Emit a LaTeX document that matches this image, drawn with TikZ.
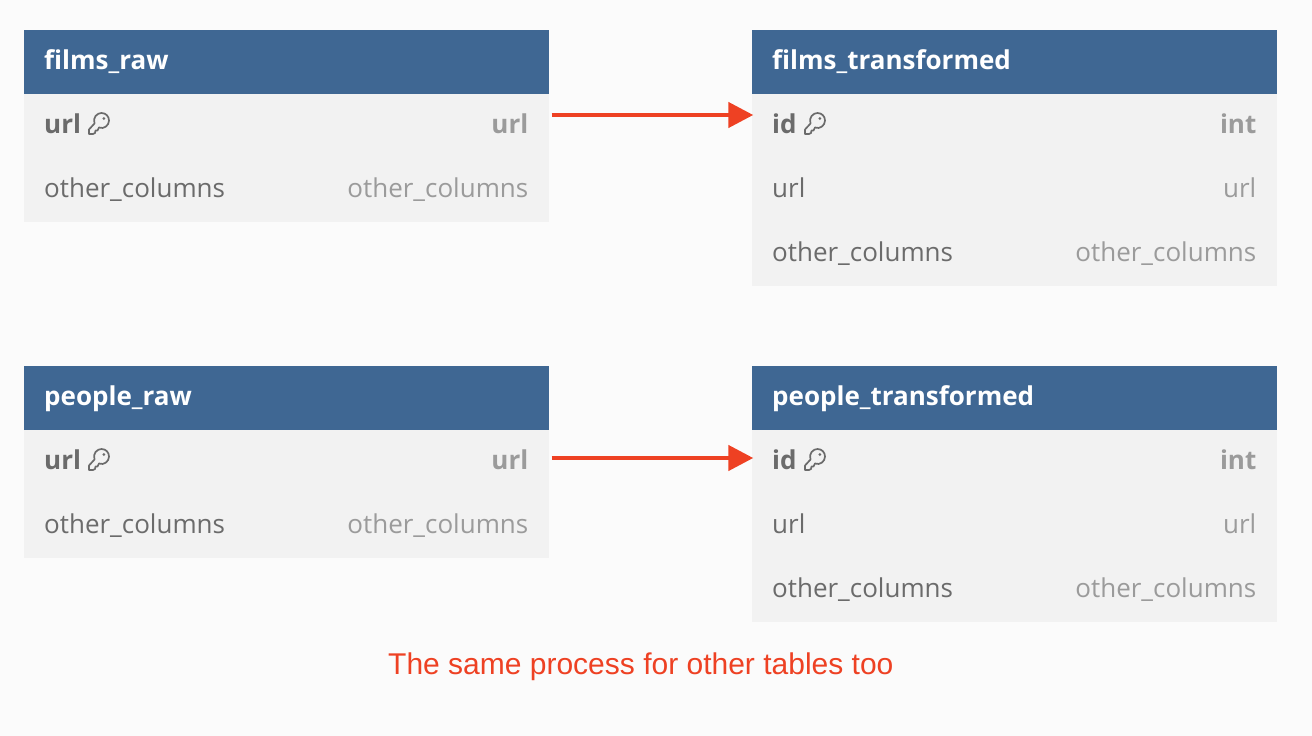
\documentclass[tikz,border=0pt]{standalone}
\usepackage{fontspec}
\setmainfont{Open Sans}
\newfontfamily\redfont{Liberation Sans}
\usetikzlibrary{arrows.meta}
\definecolor{bgc}{HTML}{FBFBFB}
\definecolor{headc}{HTML}{3F6793}
\definecolor{rowc}{HTML}{F2F2F2}
\definecolor{namec}{HTML}{6B6B6B}
\definecolor{typec}{HTML}{9B9B9B}
\definecolor{redc}{HTML}{EE4123}
\tikzset{
  x=1pt,y=-1pt,
  header/.style={fill=headc,draw=none,minimum width=525pt,minimum height=64pt,anchor=north west,inner sep=0pt},
  body/.style={fill=rowc,draw=none,minimum width=525pt,anchor=north west,inner sep=0pt},
  title/.style={anchor=base west,inner sep=0pt,text=white,font=\fontsize{26}{26}\selectfont\bfseries},
  colname/.style={anchor=base west,inner sep=0pt,text=namec,font=\fontsize{26}{26}\selectfont},
  keyname/.style={colname,font=\fontsize{26}{26}\selectfont\bfseries},
  coltype/.style={anchor=base east,inner sep=0pt,text=typec,font=\fontsize{26}{26}\selectfont},
  keytype/.style={coltype,font=\fontsize{26}{26}\selectfont\bfseries},
  flow/.style={draw=redc,line width=4.5pt,-{Triangle[length=25pt,width=25pt,fill=redc]}},
  keyglyph/.style={draw=namec,line width=1.7pt,line join=round,fill=none},
  pics/keyicon/.style={code={
    \draw[keyglyph] (1,21) -- (1,16.5) -- (6.5,10.5)
      .. controls (4.5,4.5) and (9,0) .. (13.5,0)
      .. controls (18,0) and (21,3.5) .. (21,7.5)
      .. controls (21,12.5) and (16,16.5) .. (11,14.5)
      -- (9.5,17.5) -- (7.5,17.5) -- (7,20) -- (5,21) -- cycle;
    \fill[namec] (15.8,5.5) circle (1.5);
  }}
}
\begin{document}
\begin{tikzpicture}
\useasboundingbox[fill=bgc] (0,0) rectangle (1312,736);
% films_raw
\node[body,minimum height=128pt] (frb) at (23.5,94) {};
\node[header] (frh) at (23.5,30) {};
\node[title] (frt) at (44,69) {films\_raw};
\node[keyname] (fr1) at (44,133) {url};
\pic at (88,113) {keyicon};
\node[keytype] (fr1t) at (528.5,133) {url};
\node[colname] (fr2) at (44,197) {other\_columns};
\node[coltype] (fr2t) at (528.5,197) {other\_columns};
% films_transformed
\node[body,minimum height=192pt] (ftb) at (751.5,94) {};
\node[header] (fth) at (751.5,30) {};
\node[title] (ftt) at (772,69) {films\_transformed};
\node[keyname] (ft1) at (772,133) {id};
\pic at (804,113) {keyicon};
\node[keytype] (ft1t) at (1256.5,133) {int};
\node[colname] (ft2) at (772,197) {url};
\node[coltype] (ft2t) at (1256.5,197) {url};
\node[colname] (ft3) at (772,261) {other\_columns};
\node[coltype] (ft3t) at (1256.5,261) {other\_columns};
% people_raw
\node[body,minimum height=128pt] (prb) at (23.5,430) {};
\node[header] (prh) at (23.5,366) {};
\node[title] (prt) at (44,405) {people\_raw};
\node[keyname] (pr1) at (44,469) {url};
\pic at (88,449) {keyicon};
\node[keytype] (pr1t) at (528.5,469) {url};
\node[colname] (pr2) at (44,533) {other\_columns};
\node[coltype] (pr2t) at (528.5,533) {other\_columns};
% people_transformed
\node[body,minimum height=192pt] (ptb) at (751.5,430) {};
\node[header] (pth) at (751.5,366) {};
\node[title] (ptt) at (772,405) {people\_transformed};
\node[keyname] (pt1) at (772,469) {id};
\pic at (804,449) {keyicon};
\node[keytype] (pt1t) at (1256.5,469) {int};
\node[colname] (pt2) at (772,533) {url};
\node[coltype] (pt2t) at (1256.5,533) {url};
\node[colname] (pt3) at (772,597) {other\_columns};
\node[coltype] (pt3t) at (1256.5,597) {other\_columns};
% connectors
\coordinate (fa) at (551.5,115);
\coordinate (fb) at (753.3,115);
\coordinate (pa) at (551.5,458);
\coordinate (pb) at (753.3,458);
\draw[flow] (fa) -- (fb);
\draw[flow] (pa) -- (pb);
\node[anchor=base west,inner sep=0pt,text=redc,font=\fontsize{30}{30}\selectfont\redfont] (note) at (388,674) {The same process for other tables too};
\end{tikzpicture}
\end{document}
